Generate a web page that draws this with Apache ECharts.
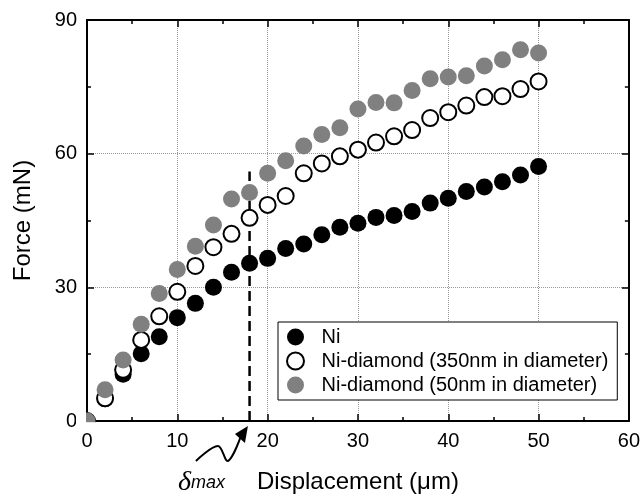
<!DOCTYPE html>
<html><head><meta charset="utf-8">
<script src="https://cdn.jsdelivr.net/npm/echarts@6/dist/echarts.min.js"></script>
<style>html,body{margin:0;padding:0;background:#fff}#c{width:643px;height:499px}</style>
</head><body><div id="c"></div>
<script>
const displacement = [0,2,4,6,8,10,12,14,16,18,20,22,24,26,28,30,32,34,36,38,40,42,44,46,48,50];
const forceNi = [0,5.0,10.5,15.1,18.9,23.2,26.4,30.0,33.4,35.4,36.5,38.7,39.7,41.8,43.5,44.4,45.7,46.1,47.0,48.9,50.0,51.5,52.5,53.7,55.2,57.1];
const forceNiD350 = [0,5.1,11.5,18.2,23.5,29.0,34.8,39.0,42.0,45.6,48.5,50.5,55.6,57.8,59.4,60.9,62.5,63.9,65.3,68.0,69.3,70.8,72.7,72.9,74.5,76.2];
const forceNiD50 = [0,7.0,13.7,21.7,28.6,34.0,39.2,44.0,49.8,51.3,55.6,58.4,61.7,64.3,65.8,70.0,71.5,71.4,74.2,76.8,77.2,77.5,79.7,81.1,83.3,82.6];
const deltaMaxX = 18;
const deltaMaxLine = [[18,0],[18,56]];
const xTicks = {min:0,max:60,interval:10};
const yTicks = {min:0,max:90,interval:30};
const seriesNames = ['Ni','Ni-diamond (350nm in diameter)','Ni-diamond (50nm in diameter)'];

const pairs = ys => displacement.map((x,i)=>[x,ys[i]]);
const font = 'Liberation Sans, Arial, sans-serif';
const chart = echarts.init(document.getElementById('c'));
const axisCommon = {
  axisLine:{show:true,onZero:false,lineStyle:{color:'#000',width:2}},
  axisTick:{show:true,inside:true,length:7,lineStyle:{color:'#000',width:1.5}},
  minorTick:{show:true,splitNumber:2,length:4,lineStyle:{color:'#000',width:1.5}},
};
chart.setOption({
  animation:false,
  backgroundColor:'#fff',
  grid:{left:87,right:12,top:20,bottom:76},
  xAxis:[
    Object.assign({type:'value',position:'bottom',min:xTicks.min,max:xTicks.max,interval:xTicks.interval,
      name:'Displacement (\u03bcm)',nameLocation:'middle',nameGap:49,
      nameTextStyle:{fontFamily:font,fontSize:24,color:'#000'},
      axisLabel:{fontFamily:font,fontSize:20,color:'#000',margin:10},
      splitLine:{show:true,lineStyle:{color:'#999',type:'dotted',width:1}}},axisCommon),
    Object.assign({type:'value',position:'top',min:xTicks.min,max:xTicks.max,interval:xTicks.interval,
      axisLabel:{show:false},splitLine:{show:false}},axisCommon)
  ],
  yAxis:[
    Object.assign({type:'value',position:'left',min:yTicks.min,max:yTicks.max,interval:yTicks.interval,
      name:'Force (mN)',nameLocation:'middle',nameGap:52,
      nameTextStyle:{fontFamily:font,fontSize:24,color:'#000'},
      axisLabel:{fontFamily:font,fontSize:20,color:'#000',margin:10},
      splitLine:{show:true,lineStyle:{color:'#999',type:'dotted',width:1}}},axisCommon),
    Object.assign({type:'value',position:'right',min:yTicks.min,max:yTicks.max,interval:yTicks.interval,
      axisLabel:{show:false},splitLine:{show:false}},axisCommon)
  ],
  legend:{
    left:278,top:322,orient:'vertical',
    padding:[5,9,5,8],itemWidth:42,itemHeight:17,itemGap:4,
    borderColor:'#000',borderWidth:1,backgroundColor:'#fff',
    textStyle:{fontFamily:font,fontSize:20,color:'#000'},
    data:seriesNames
  },
  series:[
    {name:'Line',type:'line',data:deltaMaxLine,symbol:'none',silent:true,
     lineStyle:{color:'#000',width:2.5,type:[10,5]},z:1},
    {name:seriesNames[0],type:'scatter',data:pairs(forceNi),symbol:'circle',symbolSize:17,
     itemStyle:{color:'#000',opacity:1},z:2},
    {name:seriesNames[1],type:'scatter',data:pairs(forceNiD350),symbol:'circle',symbolSize:16,
     itemStyle:{color:'#fff',borderColor:'#000',borderWidth:2,opacity:1},z:3},
    {name:seriesNames[2],type:'scatter',data:pairs(forceNiD50),symbol:'circle',symbolSize:17,
     itemStyle:{color:'#808080',opacity:1},z:4}
  ]
});
const origin = chart.convertToPixel({xAxisIndex:0,yAxisIndex:0},[0,0]);
const ox = origin[0], oy = origin[1];
const tip = chart.convertToPixel({xAxisIndex:0,yAxisIndex:0},[deltaMaxX*0.99,0]);
const tx = tip[0], ty = tip[1] + 5;
chart.setOption({graphic:[
  // hide the parts of the origin markers that fall outside the plotting frame
  {type:'rect',z:50,shape:{x:ox-11,y:oy-11,width:10,height:22},style:{fill:'#fff'}},
  {type:'rect',z:50,shape:{x:ox-11,y:oy+1.2,width:22,height:10},style:{fill:'#fff'}},
  {type:'polyline',shape:{points:[[tx-52,ty+35],[tx-30,ty+20],[tx-20,ty+35],[tx-7,ty+10]],smooth:0.35},
   style:{stroke:'#000',lineWidth:2,fill:null}},
  {type:'polygon',shape:{points:[[tx,ty],[tx-13,ty+8],[tx-3,ty+17]]},style:{fill:'#000'}},
  {type:'text',x:tx-70,y:ty+57,style:{
    text:'{d|\u03b4}{m|max}',verticalAlign:'middle',align:'left',
    rich:{d:{fontFamily:'Liberation Serif, serif',fontStyle:'italic',fontSize:28,fill:'#000'},
          m:{fontFamily:font,fontStyle:'italic',fontSize:18,fill:'#000'}}}}
]});
</script></body></html>
